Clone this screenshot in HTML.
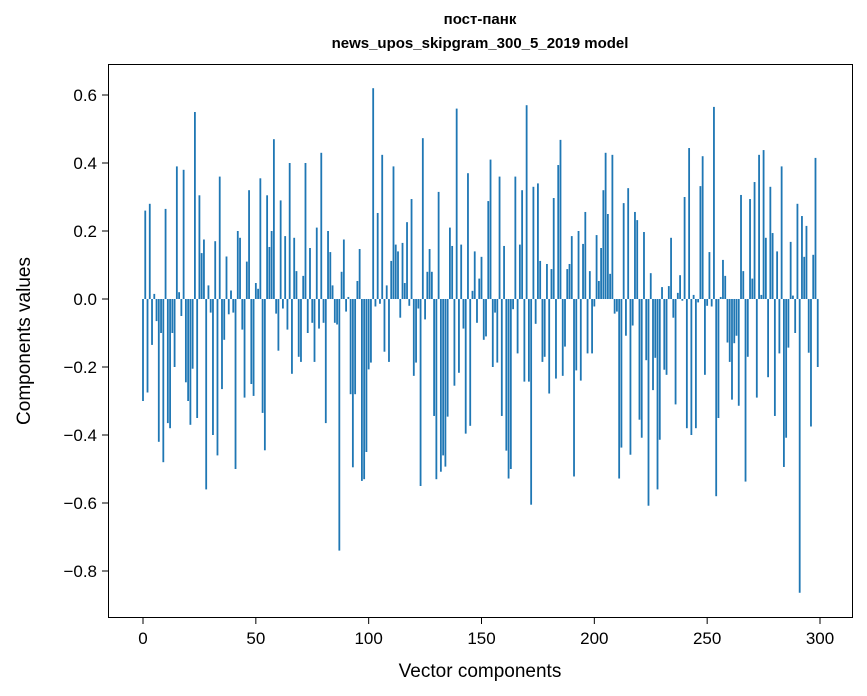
<!DOCTYPE html>
<html><head><meta charset="utf-8">
<style>
body{margin:0;background:#fff;}
svg{display:block;font-family:"Liberation Sans","DejaVu Sans",sans-serif;}
</style></head>
<body>
<svg id="chart" width="867" height="696">
<text x="480" y="24" text-anchor="middle" font-size="15" font-weight="bold">пост-панк</text>
<text x="480" y="48" text-anchor="middle" font-size="15" font-weight="bold">news_upos_skipgram_300_5_2019 model</text>
<g id="bars"></g>
<rect x="108.5" y="64.5" width="744" height="553" fill="none" stroke="#000" stroke-width="1"/>
<g id="xticks"></g>
<g id="yticks"></g>
<text x="480" y="677" text-anchor="middle" font-size="19">Vector components</text>
<text transform="translate(30,341) rotate(-90)" text-anchor="middle" font-size="19">Components values</text>
</svg>
<script>
const values = [
-0.30,0.26,-0.275,0.28,-0.135,0.015,-0.065,-0.42,-0.10,-0.48,
0.265,-0.365,-0.38,-0.10,-0.20,0.39,0.02,-0.05,0.38,-0.245,
-0.30,-0.37,-0.205,0.55,-0.35,0.305,0.135,0.175,-0.56,0.04,
-0.04,-0.40,0.17,-0.46,0.36,-0.265,-0.12,0.125,-0.045,0.025,
-0.04,-0.50,0.20,0.18,-0.09,-0.29,0.11,0.32,-0.25,-0.285,
0.047,0.03,0.355,-0.335,-0.445,0.305,0.153,0.20,0.47,-0.043,
-0.152,0.29,-0.028,0.185,-0.09,0.40,-0.22,0.18,0.082,-0.17,
-0.185,0.068,0.40,-0.10,0.15,-0.07,-0.185,0.21,-0.087,0.43,
-0.07,-0.365,0.20,0.138,0.04,-0.07,-0.075,-0.74,0.08,0.175,
-0.037,0.006,-0.28,-0.495,-0.28,0.053,0.147,-0.535,-0.53,-0.45,
-0.207,-0.187,0.62,-0.022,0.253,-0.014,0.424,-0.155,0.04,-0.185,
0.112,0.39,0.16,0.14,-0.055,0.165,0.047,0.226,-0.02,0.294,
-0.226,-0.187,-0.028,-0.55,0.473,-0.06,0.08,0.147,0.08,-0.344,
-0.53,0.315,-0.508,-0.46,-0.493,-0.346,0.21,0.156,-0.255,0.56,
-0.217,0.16,-0.087,-0.396,0.37,-0.373,0.024,0.14,-0.07,0.06,
0.124,-0.12,-0.11,0.288,0.41,-0.20,-0.04,-0.187,0.36,-0.344,
0.156,-0.446,-0.528,-0.50,-0.03,0.36,-0.16,0.16,0.32,-0.243,
0.57,-0.243,-0.605,0.33,-0.073,0.34,0.112,-0.185,-0.17,0.103,
-0.278,0.088,0.297,-0.234,0.394,0.468,-0.226,-0.14,0.088,0.103,
0.185,-0.522,-0.21,0.20,-0.24,0.162,0.256,-0.16,0.082,-0.16,
-0.022,0.188,0.053,0.15,0.32,0.43,0.25,0.074,0.424,-0.043,
-0.037,-0.528,-0.437,0.282,-0.108,0.326,-0.458,-0.078,0.256,0.232,
-0.355,-0.408,0.197,-0.18,-0.608,0.076,-0.268,-0.173,-0.56,-0.414,
0.035,-0.208,-0.223,0.038,0.18,-0.055,-0.31,0.018,0.07,-0.005,
0.30,-0.38,0.444,-0.40,0.012,-0.38,-0.01,0.332,0.42,-0.223,
-0.02,0.138,-0.022,0.565,-0.58,-0.35,0.006,0.115,0.068,-0.128,
-0.185,-0.296,-0.13,-0.108,-0.314,0.306,0.082,-0.537,-0.17,0.294,
0.06,0.344,-0.29,0.424,0.012,0.438,0.18,-0.23,0.33,0.194,
-0.344,0.14,-0.16,0.39,-0.494,-0.408,-0.143,0.168,0.01,-0.10,
0.28,-0.864,0.244,0.124,0.215,-0.158,-0.375,0.13,0.415,-0.20
];
const xTicks = [0,50,100,150,200,250,300];
const yTicks = [-0.8,-0.6,-0.4,-0.2,0.0,0.2,0.4,0.6];
const NS='http://www.w3.org/2000/svg';
function xs(i){return 143+i*(820-143)/300;}
function ys(v){return 299-v*340;}
const bars=document.getElementById('bars');
const bw=0.8*(820-143)/300;
values.forEach((v,i)=>{
  const r=document.createElementNS(NS,'rect');
  const y0=ys(0), y1=ys(v);
  r.setAttribute('x',xs(i)-bw/2);
  r.setAttribute('y',Math.min(y0,y1));
  r.setAttribute('width',bw);
  r.setAttribute('height',Math.max(Math.abs(y1-y0),0.3));
  r.setAttribute('fill','#1f77b4');
  
  
  bars.appendChild(r);
});
const xg=document.getElementById('xticks');
xTicks.forEach(t=>{
  const l=document.createElementNS(NS,'line');
  l.setAttribute('x1',xs(t));l.setAttribute('x2',xs(t));
  l.setAttribute('y1',617.5);l.setAttribute('y2',624);
  l.setAttribute('stroke','#000');
  
  
  xg.appendChild(l);
  const tx=document.createElementNS(NS,'text');
  tx.setAttribute('x',xs(t));tx.setAttribute('y',644);
  tx.setAttribute('text-anchor','middle');tx.setAttribute('font-size','17');
  tx.textContent=t;
  
  
  xg.appendChild(tx);
});
const yg=document.getElementById('yticks');
yTicks.forEach(t=>{
  const l=document.createElementNS(NS,'line');
  l.setAttribute('x1',102);l.setAttribute('x2',108.5);
  l.setAttribute('y1',ys(t));l.setAttribute('y2',ys(t));
  l.setAttribute('stroke','#000');
  
  
  yg.appendChild(l);
  const tx=document.createElementNS(NS,'text');
  tx.setAttribute('x',97);tx.setAttribute('y',ys(t)+6);
  tx.setAttribute('text-anchor','end');tx.setAttribute('font-size','17');
  tx.textContent=(t<0?'\u2212':'')+Math.abs(t).toFixed(1);
  
  
  yg.appendChild(tx);
});
</script>
</body></html>
